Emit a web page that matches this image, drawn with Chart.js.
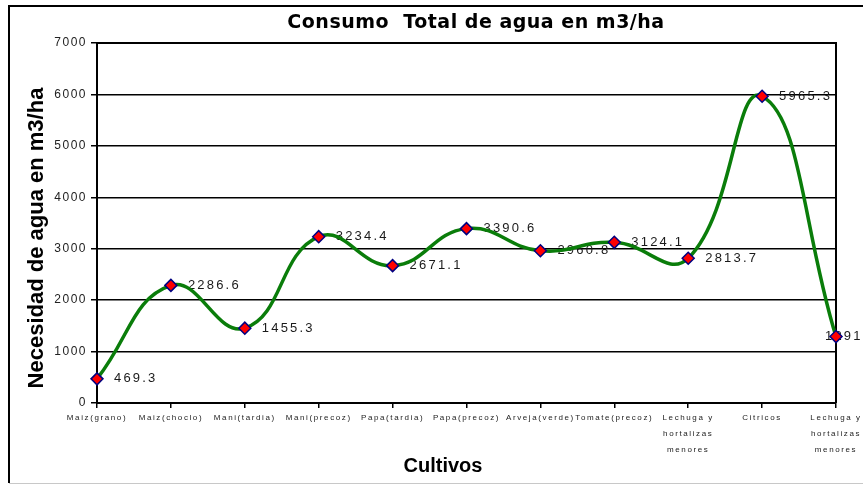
<!DOCTYPE html>
<html>
<head>
<meta charset="utf-8">
<script src="https://cdn.jsdelivr.net/npm/chart.js@4.4.1/dist/chart.umd.min.js"></script>
<style>
  html, body { margin: 0; padding: 0; background: #fff; }
  #wrap { width: 863px; height: 485px; }
</style>
</head>
<body>
<div id="wrap"><canvas id="aguaChart" width="863" height="485"></canvas></div>
<script>
// datos del grafico
const cultivos = [
  "Maiz(grano)", "Maiz(choclo)", "Mani(tardia)", "Mani(precoz)", "Papa(tardia)",
  "Papa(precoz)", "Arveja(verde)", "Tomate(precoz)",
  ["Lechuga y", "hortalizas", "menores"], "Citricos",
  ["Lechuga y", "hortalizas", "menores"]
];
const consumo = [469.3, 2286.6, 1455.3, 3234.4, 2671.1, 3390.6, 2960.8, 3124.1, 2813.7, 5965.3, 1291.3];
const yTicks = [0, 1000, 2000, 3000, 4000, 5000, 6000, 7000];

const titulo = "Consumo  Total de agua en m3/ha";
const tituloY = "Necesidad de agua en m3/ha";
const tituloX = "Cultivos";

const fuente = "Arial, 'Liberation Sans', sans-serif";

// marco exterior, titulos, borde del area y etiquetas de valores
const marcoPlugin = {
  id: "marco",
  beforeDraw(chart) {
    const c = chart.ctx;
    c.save();
    c.fillStyle = "#fff";
    c.fillRect(0, 0, chart.width, chart.height);
    c.strokeStyle = "#000";
    c.lineWidth = 2;
    c.beginPath();
    c.moveTo(9, 483);
    c.lineTo(9, 6);
    c.lineTo(chart.width + 2, 6);
    c.stroke();
    c.strokeStyle = "#c8c8c8";
    c.lineWidth = 1;
    c.beginPath();
    c.moveTo(9, 483.5);
    c.lineTo(chart.width, 483.5);
    c.stroke();

    c.fillStyle = "#000";
    c.textAlign = "center";
    c.textBaseline = "middle";
    c.font = "bold 19px 'DejaVu Sans', Verdana, sans-serif";
    c.letterSpacing = "0.5px";
    c.fillText(titulo, 476, 23);
    c.letterSpacing = "0px";
    c.font = "bold 20px " + fuente;
    c.fillText(tituloX, 443, 466);
    c.translate(37, 238);
    c.rotate(-Math.PI / 2);
    c.font = "bold 22px " + fuente;
    c.fillText(tituloY, 0, 0);
    c.restore();

    // espaciado de letras en los ticks
    Object.values(chart.scales).forEach(s => {
      if (s._espaciado) return;
      const orig = s.drawLabels;
      s.drawLabels = function (area) {
        c.save();
        c.letterSpacing = s.axis === "x" ? "1.6px" : "1.5px";
        orig.call(this, area);
        c.restore();
      };
      s._espaciado = true;
    });
  },
  beforeDatasetsDraw(chart) {
    const a = chart.chartArea, c = chart.ctx;
    c.save();
    c.strokeStyle = "#000";
    c.lineWidth = 2;
    c.beginPath();
    c.moveTo(a.left, a.top);
    c.lineTo(a.right, a.top);
    c.lineTo(a.right, a.bottom);
    c.stroke();

    // etiquetas de valores (debajo de la linea y los marcadores)
    const meta = chart.getDatasetMeta(0);
    c.font = "13px " + fuente;
    c.letterSpacing = "2.2px";
    c.fillStyle = "#1a1a1a";
    c.textBaseline = "middle";
    c.textAlign = "left";
    meta.data.forEach((p, i) => {
      const txt = consumo[i].toFixed(1);
      const w = c.measureText(txt).width;
      const x = p.x + 17 + w > chart.width + 10 ? p.x - 11 : p.x + 17;
      c.fillText(txt, x, p.y);
    });
    c.restore();
  }
};

const ctx = document.getElementById("aguaChart").getContext("2d");

new Chart(ctx, {
  type: "line",
  data: {
    labels: cultivos,
    datasets: [{
      data: consumo,
      borderColor: "#0a7d0a",
      borderWidth: 3.5,
      tension: 0.45,
      pointStyle: "rectRot",
      pointRadius: 6,
      pointBackgroundColor: "#ff0000",
      pointBorderColor: "#000080",
      pointBorderWidth: 1.5,
      clip: false
    }]
  },
  options: {
    responsive: false,
    animation: false,
    layout: { padding: { left: 14, right: 27, top: 43, bottom: 2 } },
    plugins: {
      legend: { display: false },
      tooltip: { enabled: false },
      title: { display: false }
    },
    scales: {
      x: {
        offset: false,
        grid: { display: true, drawOnChartArea: false, drawTicks: true, tickLength: 5, color: "#000", lineWidth: 1.5 },
        border: { color: "#000", width: 2 },
        ticks: {
          color: "#222",
          font: { family: fuente, size: 8, lineHeight: 2 },
          autoSkip: false,
          maxRotation: 0,
          padding: 2
        },
        afterFit(s) { s.height = 80; }
      },
      y: {
        min: 0,
        max: 7000,
        afterBuildTicks(s) { s.ticks = yTicks.map(v => ({ value: v })); },
        grid: { color: "#000", lineWidth: 1.5, tickLength: 6 },
        border: { color: "#000", width: 2 },
        ticks: {
          color: "#222",
          font: { family: fuente, size: 12 },
          padding: 4,
          callback: v => String(v)
        },
        afterFit(s) { s.width = 83; }
      }
    }
  },
  plugins: [marcoPlugin]
});
</script>
</body>
</html>
